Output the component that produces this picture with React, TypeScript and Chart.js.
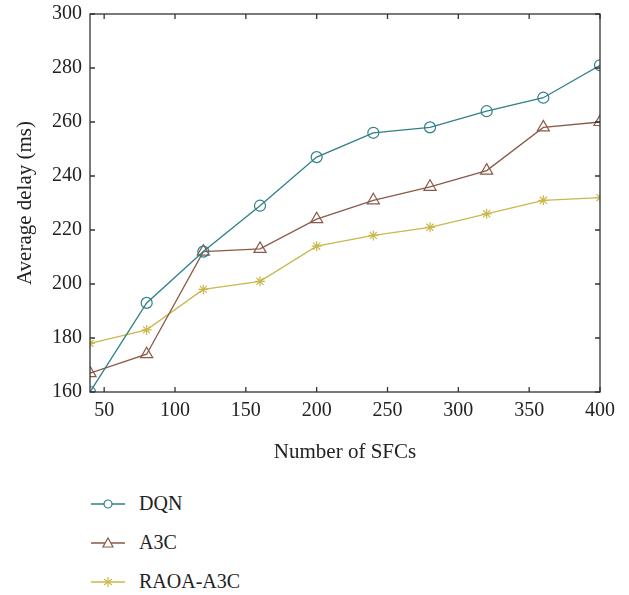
import React, { useEffect, useRef } from "react";
import { Chart, registerables } from "chart.js";

Chart.register(...registerables);

const sfcs = [40, 80, 120, 160, 200, 240, 280, 320, 360, 400];
const dqn = [160, 193, 212, 229, 247, 256, 258, 264, 269, 281];
const a3c = [167, 174, 212, 213, 224, 231, 236, 242, 258, 260];
const raoa = [178, 183, 198, 201, 214, 218, 221, 226, 231, 232];
const xTicks = [50, 100, 150, 200, 250, 300, 350, 400];
const seriesNames = ["DQN", "A3C", "RAOA-A3C"];
const colors = ["#2f7f87", "#8a5a49", "#c9b84c"];
const styles = ["circle", "triangle", "star"];

const FONT = "'Liberation Serif', 'DejaVu Serif', serif";

const boxTicks = {
  id: "boxTicks",
  afterDraw(chart: any) {
    const { ctx, chartArea } = chart;
    const xs = chart.scales.x;
    const ys = chart.scales.y;
    const L = 5;
    ctx.save();
    ctx.strokeStyle = "#333";
    ctx.lineWidth = 1.3;
    ctx.strokeRect(chartArea.left, chartArea.top, chartArea.right - chartArea.left, chartArea.bottom - chartArea.top);
    ctx.beginPath();
    xs.ticks.forEach((t: any) => {
      const px = xs.getPixelForValue(t.value);
      ctx.moveTo(px, chartArea.bottom);
      ctx.lineTo(px, chartArea.bottom - L);
      ctx.moveTo(px, chartArea.top);
      ctx.lineTo(px, chartArea.top + L);
    });
    ys.ticks.forEach((t: any) => {
      const py = ys.getPixelForValue(t.value);
      ctx.moveTo(chartArea.left, py);
      ctx.lineTo(chartArea.left + L, py);
      ctx.moveTo(chartArea.right, py);
      ctx.lineTo(chartArea.right - L, py);
    });
    ctx.stroke();
    ctx.restore();
  },
};

function Marker({ i }: { i: number }) {
  const c = colors[i];
  return (
    <svg width="40" height="16" style={{ display: "block" }}>
      <line x1="2" y1="8" x2="36" y2="8" stroke={c} strokeWidth="1.3" />
      {i === 0 && <circle cx="19" cy="8" r="4" fill="white" stroke={c} strokeWidth="1.2" />}
      {i === 1 && <polygon points="19,3 24,12 14,12" fill="white" stroke={c} strokeWidth="1.2" />}
      {i === 2 && (
        <g stroke={c} strokeWidth="1.2">
          <line x1="19" y1="3" x2="19" y2="13" />
          <line x1="15" y1="5" x2="23" y2="11" />
          <line x1="23" y1="5" x2="15" y2="11" />
        </g>
      )}
    </svg>
  );
}

export default function App() {
  const ref = useRef<HTMLCanvasElement>(null);
  useEffect(() => {
    const data = [dqn, a3c, raoa];
    const chart = new Chart(ref.current!, {
      type: "line",
      data: {
        datasets: data.map((d, i) => ({
          label: seriesNames[i],
          data: d.map((v, j) => ({ x: sfcs[j], y: v })),
          borderColor: colors[i],
          backgroundColor: "rgba(255,255,255,0)",
          borderWidth: 1.3,
          pointStyle: styles[i] as any,
          pointRadius: i === 1 ? 7 : i === 0 ? 5.5 : 5,
          pointBorderWidth: 1.2,
          pointBorderColor: colors[i],
          pointBackgroundColor: "rgba(255,255,255,0)",
          tension: 0,
        })),
      },
      options: {
        animation: false,
        responsive: false,
        layout: { padding: { left: 0, right: 29, top: 14, bottom: 0 } },
        plugins: { legend: { display: false }, tooltip: { enabled: false } },
        scales: {
          x: {
            type: "linear",
            min: 40,
            max: 400,
            afterBuildTicks: (s: any) => {
              s.ticks = xTicks.map((v) => ({ value: v }));
            },
            afterFit: (s: any) => {
              s.height = 78;
              s.paddingLeft = 0;
              s.paddingRight = 0;
            },
            grid: { drawOnChartArea: false, drawTicks: false },
            border: { display: false },
            ticks: { color: "#222", font: { family: FONT, size: 20 }, padding: 7, maxRotation: 0 },
            title: {
              display: true,
              text: "Number of SFCs",
              color: "#222",
              font: { family: FONT, size: 21 },
              padding: { top: 0, bottom: 5 },
            },
          },
          y: {
            min: 160,
            max: 300,
            afterFit: (s: any) => {
              s.width = 90;
              s.paddingTop = 0;
              s.paddingBottom = 0;
            },
            grid: { drawOnChartArea: false, drawTicks: false },
            border: { display: false },
            ticks: { stepSize: 20, color: "#222", font: { family: FONT, size: 20 }, padding: 8 },
            title: {
              display: true,
              text: "Average delay (ms)",
              color: "#222",
              font: { family: FONT, size: 21 },
              padding: { top: 13, bottom: 0 },
            },
          },
        },
      },
      plugins: [boxTicks],
    });
    return () => chart.destroy();
  }, []);

  return (
    <div style={{ position: "absolute", left: 0, top: 0, width: 629, height: 595, background: "white" }}>
      <canvas ref={ref} width={629} height={470} style={{ display: "block" }} />
      <div style={{ position: "absolute", left: 89, top: 484, fontFamily: FONT, fontSize: 20, color: "#222" }}>
        {seriesNames.map((n) => (
          <div key={n} style={{ display: "flex", alignItems: "center", height: 39 }}>
            <Marker i={seriesNames.indexOf(n)} />
            <span style={{ marginLeft: 10 }}>{n}</span>
          </div>
        ))}
      </div>
    </div>
  );
}
